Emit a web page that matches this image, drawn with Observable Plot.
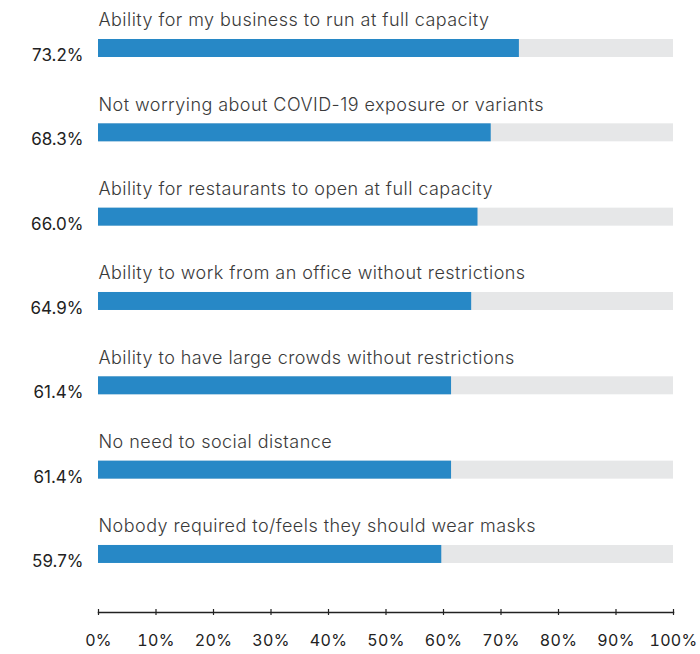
<!DOCTYPE html>
<html><head><meta charset="utf-8">
<script src="https://cdn.jsdelivr.net/npm/d3@7"></script>
<script src="https://cdn.jsdelivr.net/npm/@observablehq/plot@0.6"></script>
<style>
body{margin:0;background:#fff}
[aria-label="category labels"], [aria-label="category labels"] text{letter-spacing:0.45px}
[aria-label="x-axis tick label"] text{letter-spacing:0.3px}
</style>
</head><body><div id="chart"></div>
<script>
const categories = [
  "Ability for my business to run at full capacity",
  "Not worrying about COVID-19 exposure or variants",
  "Ability for restaurants to open at full capacity",
  "Ability to work from an office without restrictions",
  "Ability to have large crowds without restrictions",
  "No need to social distance",
  "Nobody required to/feels they should wear masks"
];
const values = [73.2, 68.3, 66.0, 64.9, 61.4, 61.4, 59.7];
const tickValues = [0, 10, 20, 30, 40, 50, 60, 70, 80, 90, 100];
const tickLabels = ["0%", "10%", "20%", "30%", "40%", "50%", "60%", "70%", "80%", "90%", "100%"];

const data = categories.map((c, i) => ({category: c, value: values[i]}));

const chart = Plot.plot({
  width: 700, height: 654,
  marginTop: 0, marginBottom: 42, marginLeft: 98, marginRight: 27,
  style: {fontFamily: "Inter, sans-serif", background: "#fff", color: "#222", overflow: "visible"},
  x: {domain: [0, 100], label: null},
  y: {domain: categories, paddingInner: 0.7866, paddingOuter: 0.522, align: 0.443, round: false, axis: null},
  marks: [
    Plot.barX(data, {y: "category", x1: 0, x2: 100, fill: "#E6E7E8"}),
    Plot.barX(data, {y: "category", x: "value", fill: "#2788C6"}),
    Plot.text(data, {y: "category", x: 0, text: "category", textAnchor: "start", dy: -28, fontSize: 18, fontWeight: 300, fill: "#3a3a3a", ariaLabel: () => "category labels"}),
    Plot.text(data, {y: "category", x: 0, text: d => d.value.toFixed(1) + "%", textAnchor: "end", dx: -15, dy: 7, fontSize: 17, fontWeight: 400, fill: "#222"}),
    Plot.frame({anchor: "bottom", stroke: "#222", strokeWidth: 1.5}),
    Plot.axisX(tickValues, {tickSize: 6, dy: -3, tickFormat: () => "", label: null, stroke: "#222", strokeWidth: 1.2}),
    Plot.axisX(tickValues, {tickSize: 0, tickPadding: 22, tickFormat: (d, i) => tickLabels[i], label: null, fontSize: 16, fontWeight: 400, fill: "#222"})
  ]
});
document.getElementById("chart").appendChild(chart);
</script>
</body></html>
